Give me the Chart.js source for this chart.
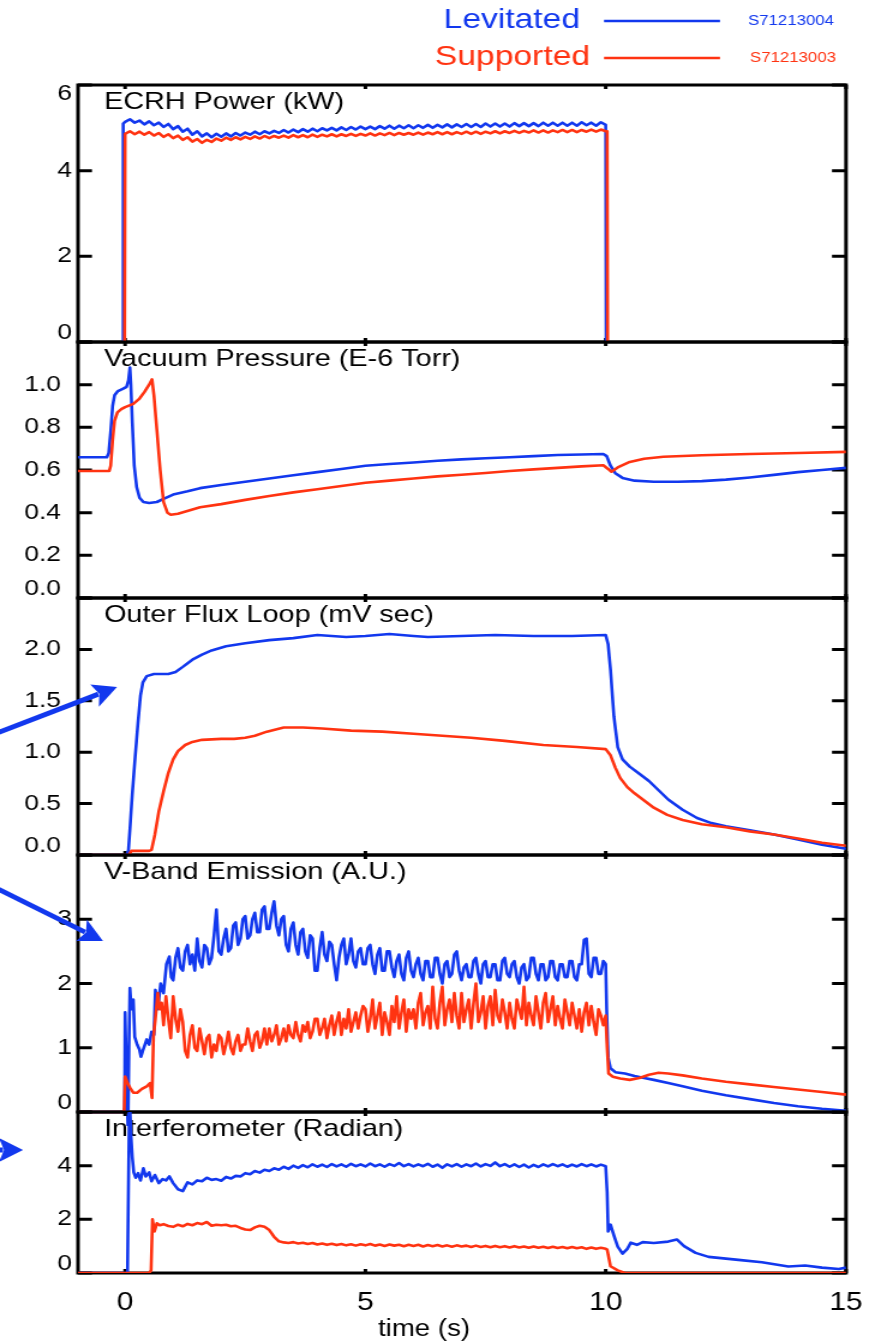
<!DOCTYPE html>
<html>
<head>
<meta charset="utf-8">
<script src="https://cdn.jsdelivr.net/npm/chart.js@4.4.1/dist/chart.umd.min.js"></script>
<style>
  body { margin: 0; background: #fff; }
  #wrap { position: relative; width: 869px; height: 1344px; overflow: hidden; }
  #wrap canvas { position: absolute; left: 0; }
</style>
</head>
<body>
<div id="wrap"></div>
<script>
// series names and shot numbers
var seriesNames = ['Levitated', 'Supported'];
var shotIds = ['S71213004', 'S71213003'];

// sample times used by the noisy traces (s)
var tGrid = [0.0,0.1,0.2,0.3,0.4,0.5,0.6,0.7,0.8,0.9,
  1.0,1.1,1.2,1.3,1.4,1.5,1.6,1.7,1.8,1.9,
  2.0,2.1,2.2,2.3,2.4,2.5,2.6,2.7,2.8,2.9,
  3.0,3.1,3.2,3.3,3.4,3.5,3.6,3.7,3.8,3.9,
  4.0,4.1,4.2,4.3,4.4,4.5,4.6,4.7,4.8,4.9,
  5.0,5.1,5.2,5.3,5.4,5.5,5.6,5.7,5.8,5.9,
  6.0,6.1,6.2,6.3,6.4,6.5,6.6,6.7,6.8,6.9,
  7.0,7.1,7.2,7.3,7.4,7.5,7.6,7.7,7.8,7.9,
  8.0,8.1,8.2,8.3,8.4,8.5,8.6,8.7,8.8,8.9,
  9.0,9.1,9.2,9.3,9.4,9.5,9.6,9.7,9.8,9.9,
  10.0];
var tGrid1 = tGrid.slice(10); // 1.0 .. 10.0
var tFine = [1.00,1.05,1.10,1.15,1.20,1.25,1.30,1.35,1.40,1.45,
  1.50,1.55,1.60,1.65,1.70,1.75,1.80,1.85,1.90,1.95,
  2.00,2.05,2.10,2.15,2.20,2.25,2.30,2.35,2.40,2.45,
  2.50,2.55,2.60,2.65,2.70,2.75,2.80,2.85,2.90,2.95,
  3.00,3.05,3.10,3.15,3.20,3.25,3.30,3.35,3.40,3.45,
  3.50,3.55,3.60,3.65,3.70,3.75,3.80,3.85,3.90,3.95,
  4.00,4.05,4.10,4.15,4.20,4.25,4.30,4.35,4.40,4.45,
  4.50,4.55,4.60,4.65,4.70,4.75,4.80,4.85,4.90,4.95,
  5.00,5.05,5.10,5.15,5.20,5.25,5.30,5.35,5.40,5.45,
  5.50,5.55,5.60,5.65,5.70,5.75,5.80,5.85,5.90,5.95,
  6.00,6.05,6.10,6.15,6.20,6.25,6.30,6.35,6.40,6.45,
  6.50,6.55,6.60,6.65,6.70,6.75,6.80,6.85,6.90,6.95,
  7.00,7.05,7.10,7.15,7.20,7.25,7.30,7.35,7.40,7.45,
  7.50,7.55,7.60,7.65,7.70,7.75,7.80,7.85,7.90,7.95,
  8.00,8.05,8.10,8.15,8.20,8.25,8.30,8.35,8.40,8.45,
  8.50,8.55,8.60,8.65,8.70,8.75,8.80,8.85,8.90,8.95,
  9.00,9.05,9.10,9.15,9.20,9.25,9.30,9.35,9.40,9.45,
  9.50,9.55,9.60,9.65,9.70,9.75,9.80,9.85,9.90,9.95,
  10.00];

// ECRH power (kW)
var ecrhLevHead = [[-0.05,0],[-0.04,5.1]];
var ecrhLev = [5.14,5.20,5.12,5.17,5.08,5.15,5.06,5.12,5.02,5.09,
  4.97,5.04,4.91,4.98,4.84,4.92,4.80,4.87,4.78,4.86,
  4.79,4.87,4.80,4.88,4.82,4.89,4.84,4.91,4.85,4.92,
  4.87,4.93,4.88,4.95,4.89,4.96,4.90,4.97,4.91,4.98,
  4.92,4.99,4.94,5.00,4.94,5.01,4.95,5.02,4.96,5.03,
  4.97,5.03,4.97,5.04,4.98,5.05,4.98,5.05,4.99,5.06,
  4.99,5.06,5.00,5.07,5.00,5.07,5.01,5.08,5.01,5.08,
  5.02,5.09,5.02,5.09,5.02,5.10,5.03,5.10,5.03,5.10,
  5.03,5.11,5.04,5.11,5.04,5.11,5.04,5.12,5.05,5.12,
  5.05,5.12,5.05,5.12,5.05,5.13,5.06,5.12,5.05,5.13,
  5.07];
var ecrhLevTail = [[10.01,0]];
var ecrhSupHead = [[-0.01,0],[0.0,4.85]];
var ecrhSup = [4.86,4.92,4.85,4.91,4.84,4.90,4.82,4.88,4.79,4.85,
  4.76,4.82,4.72,4.78,4.68,4.74,4.65,4.72,4.67,4.75,
  4.70,4.77,4.72,4.78,4.73,4.79,4.74,4.80,4.75,4.81,
  4.76,4.81,4.77,4.82,4.77,4.83,4.78,4.83,4.78,4.84,
  4.79,4.84,4.80,4.85,4.80,4.85,4.81,4.86,4.81,4.86,
  4.82,4.87,4.82,4.87,4.83,4.88,4.83,4.88,4.84,4.88,
  4.84,4.89,4.84,4.89,4.85,4.90,4.85,4.90,4.85,4.90,
  4.86,4.91,4.86,4.91,4.86,4.91,4.87,4.92,4.87,4.92,
  4.88,4.93,4.88,4.93,4.89,4.94,4.89,4.94,4.89,4.94,
  4.90,4.95,4.90,4.95,4.90,4.95,4.91,4.96,4.91,4.96,
  4.92];
var ecrhSupTail = [[10.03,4.92],[10.04,0]];

// vacuum pressure (E-6 Torr)
var presLev = [[-0.98,0.66],[-0.38,0.66],[-0.34,0.68],[-0.3,0.78],[-0.26,0.9],[-0.22,0.95],[-0.15,0.97],
  [-0.05,0.98],[0.03,0.99],[0.07,1.02],[0.1,1.08],[0.12,1.0],[0.15,0.82],[0.19,0.62],[0.24,0.52],
  [0.3,0.47],[0.38,0.45],[0.5,0.445],[0.66,0.45],[0.8,0.465],[1.0,0.485],[1.3,0.5],[1.56,0.515],
  [2.0,0.53],[2.5,0.545],[3.0,0.56],[3.5,0.575],[4.0,0.59],[4.5,0.605],[5.0,0.62],[5.5,0.628],
  [6.0,0.635],[6.5,0.643],[7.0,0.65],[7.5,0.655],[8.0,0.66],[8.5,0.665],[9.0,0.67],[9.5,0.673],
  [9.95,0.675],[10.02,0.665],[10.1,0.62],[10.2,0.585],[10.35,0.563],[10.6,0.55],[11.0,0.545],
  [11.5,0.545],[12.0,0.548],[12.5,0.555],[13.0,0.565],[13.5,0.577],[14.0,0.59],[14.5,0.6],[15.0,0.61]];
var presSup = [[-0.98,0.595],[-0.33,0.595],[-0.3,0.62],[-0.26,0.74],[-0.22,0.83],[-0.16,0.87],[-0.08,0.885],
  [0.0,0.895],[0.17,0.91],[0.3,0.935],[0.4,0.965],[0.5,1.0],[0.56,1.025],[0.6,0.95],[0.66,0.79],
  [0.73,0.6],[0.8,0.45],[0.88,0.4],[0.95,0.39],[1.1,0.395],[1.56,0.425],[2.0,0.44],[2.5,0.46],
  [3.0,0.478],[3.5,0.495],[4.0,0.51],[4.5,0.525],[5.0,0.54],[5.5,0.55],[6.0,0.56],[6.5,0.57],
  [7.0,0.578],[7.5,0.586],[8.0,0.595],[8.5,0.603],[9.0,0.61],[9.5,0.617],[9.95,0.622],[10.05,0.605],
  [10.12,0.592],[10.25,0.612],[10.5,0.638],[10.8,0.653],[11.2,0.662],[12.0,0.669],[13.0,0.675],
  [14.0,0.68],[15.0,0.685]];

// outer flux loop (mV sec)
var fluxLev = [[-0.98,0],[0.04,0],[0.07,0.05],[0.1,0.25],[0.15,0.6],[0.21,0.96],[0.27,1.3],[0.32,1.55],
  [0.37,1.68],[0.45,1.74],[0.6,1.76],[0.9,1.76],[1.05,1.78],[1.2,1.83],[1.4,1.9],[1.6,1.95],[1.8,1.99],
  [2.1,2.03],[2.5,2.06],[3.0,2.09],[3.5,2.11],[4.0,2.14],[4.3,2.13],[4.6,2.12],[5.0,2.13],[5.5,2.15],
  [6.0,2.13],[6.3,2.12],[7.0,2.13],[7.7,2.14],[8.5,2.13],[9.3,2.13],[10.0,2.14],[10.05,2.05],[10.1,1.8],
  [10.17,1.35],[10.25,1.05],[10.35,0.93],[10.5,0.86],[10.7,0.79],[10.9,0.72],[11.1,0.63],[11.3,0.54],
  [11.6,0.44],[11.9,0.36],[12.2,0.31],[12.5,0.28],[13.0,0.24],[13.5,0.2],[14.0,0.15],[14.5,0.1],[15.0,0.06]];
var fluxSup = [[-0.98,0],[0.08,0],[0.13,0.04],[0.5,0.04],[0.55,0.05],[0.62,0.2],[0.7,0.42],[0.8,0.62],
  [0.9,0.8],[1.0,0.93],[1.1,1.01],[1.25,1.07],[1.4,1.1],[1.6,1.12],[2.0,1.13],[2.27,1.13],[2.5,1.14],
  [2.7,1.16],[2.95,1.2],[3.3,1.24],[3.7,1.24],[4.1,1.23],[4.7,1.21],[5.35,1.2],[6.0,1.18],[6.6,1.16],
  [7.2,1.14],[7.9,1.11],[8.7,1.07],[9.4,1.05],[10.0,1.03],[10.1,0.97],[10.2,0.85],[10.3,0.75],
  [10.45,0.66],[10.6,0.6],[10.8,0.53],[11.0,0.46],[11.28,0.39],[11.6,0.34],[12.0,0.3],[12.5,0.27],
  [13.0,0.23],[13.5,0.2],[14.0,0.16],[14.5,0.12],[15.0,0.09]];

// V-band emission (A.U.)
var vbLevHead = [[-0.98,0],[-0.01,0],[0.0,1.55],[0.03,0.5],[0.06,-0.25],[0.08,1.0],[0.1,1.93],[0.13,1.6],
  [0.17,1.75],[0.2,1.17],[0.25,1.05],[0.3,0.97],[0.33,0.86],[0.38,0.98],[0.45,1.13],[0.5,1.05],
  [0.55,1.25],[0.6,1.2],[0.63,1.9],[0.68,1.6],[0.74,2.0],[0.8,1.85],[0.86,2.3],[0.92,2.42],[0.96,2.1]];
var vbLev = [2.05,2.4,2.55,2.25,2.2,2.5,2.6,2.3,2.45,2.2,
  2.7,2.35,2.25,2.6,2.55,2.3,2.4,2.75,3.15,2.5,
  2.45,2.7,2.85,2.5,2.55,2.9,2.95,2.6,2.7,3.0,
  3.05,2.7,2.75,3.0,3.1,2.8,2.8,3.15,3.2,2.85,
  2.85,3.1,3.28,2.9,2.75,3.0,3.05,2.6,2.5,2.85,
  2.95,2.6,2.45,2.8,2.85,2.5,2.4,2.75,2.7,2.2,
  2.2,2.55,2.8,2.45,2.35,2.65,2.6,2.3,2.05,2.4,
  2.6,2.7,2.3,2.45,2.7,2.35,2.25,2.5,2.55,2.3,
  2.3,2.55,2.6,2.3,2.15,2.45,2.55,2.2,2.2,2.5,
  2.5,2.25,2.1,2.35,2.45,2.15,2.05,2.4,2.5,2.2,
  2.1,2.3,2.4,2.15,2.05,2.35,2.35,2.1,2.1,2.4,
  2.4,2.15,2.0,2.3,2.35,2.1,2.15,2.45,2.5,2.2,
  2.05,2.25,2.3,2.1,2.1,2.35,2.4,2.15,2.0,2.3,
  2.35,2.1,2.1,2.3,2.3,2.05,2.05,2.35,2.4,2.15,
  2.1,2.3,2.35,2.1,2.0,2.25,2.3,2.05,2.1,2.4,
  2.4,2.15,2.05,2.3,2.3,2.05,2.1,2.35,2.35,2.1,
  2.05,2.3,2.3,2.1,2.1,2.35,2.35,2.1,2.05,2.3,
  2.3,2.68,2.7,2.15,2.1,2.4,2.4,2.15,2.15,2.35,
  2.3];
var vbLevTail = [[10.02,1.6],[10.05,0.85],[10.1,0.68],[10.2,0.62],[10.4,0.6],[10.6,0.56],[10.8,0.53],
  [11.0,0.5],[11.3,0.45],[11.6,0.4],[12.0,0.33],[12.5,0.26],[13.0,0.2],[13.5,0.14],[14.0,0.09],
  [14.5,0.05],[15.0,0.02]];
var vbSupHead = [[-0.98,0],[-0.02,0],[0.0,0.55],[0.05,0.45],[0.1,0.38],[0.17,0.3],[0.25,0.3],[0.35,0.36],
  [0.45,0.4],[0.52,0.45],[0.56,0.22],[0.59,1.17],[0.63,1.45],[0.68,1.85],[0.72,1.6],[0.76,1.7],
  [0.8,1.35],[0.85,1.8],[0.9,1.45],[0.95,1.15]];
var vbSup = [1.8,1.45,1.25,1.6,1.4,0.95,0.85,1.2,1.35,1.0,
  0.95,1.3,1.1,0.9,1.15,1.2,0.85,1.05,0.95,1.2,
  1.15,0.9,1.05,1.25,1.0,0.9,1.1,1.2,0.95,1.05,
  1.05,1.3,1.1,0.95,1.2,1.25,1.0,1.1,1.3,1.05,
  1.3,1.1,1.2,1.35,1.05,1.15,1.3,1.1,1.35,1.2,
  1.15,1.4,1.2,1.1,1.35,1.25,1.4,1.15,1.25,1.45,
  1.45,1.2,1.3,1.45,1.15,1.35,1.5,1.2,1.4,1.55,
  1.2,1.45,1.3,1.6,1.25,1.4,1.55,1.3,1.5,1.65,
  1.6,1.25,1.45,1.75,1.3,1.5,1.7,1.2,1.55,1.4,
  1.2,1.65,1.4,1.8,1.3,1.55,1.75,1.25,1.6,1.45,
  1.6,1.3,1.7,1.85,1.35,1.55,1.65,1.3,1.95,1.45,
  1.3,1.7,1.95,1.35,1.6,1.75,1.4,1.85,1.5,1.3,
  1.85,1.4,1.6,1.75,1.3,1.7,2.0,1.4,1.55,1.8,
  1.3,1.65,1.8,1.35,1.9,1.5,1.4,1.75,1.55,1.3,
  1.7,1.45,1.3,1.75,1.6,1.45,1.95,1.35,1.7,1.5,
  1.35,1.8,1.55,1.3,1.7,1.85,1.4,1.6,1.8,1.35,
  1.65,1.45,1.3,1.75,1.55,1.35,1.7,1.5,1.3,1.6,
  1.25,1.55,1.7,1.35,1.65,1.4,1.2,1.6,1.5,1.35,
  1.5];
var vbSupTail = [[10.03,1.0],[10.06,0.6],[10.15,0.55],[10.3,0.52],[10.5,0.5],[10.7,0.53],[10.9,0.58],
  [11.1,0.61],[11.3,0.6],[11.6,0.57],[12.0,0.52],[12.5,0.47],[13.0,0.43],[13.5,0.39],[14.0,0.35],
  [14.5,0.31],[15.0,0.27]];

// interferometer (radian)
var ifLevHead = [[-0.98,0],[0.05,0],[0.09,6.6],[0.12,5.2],[0.15,4.3],[0.18,3.75],[0.22,3.55],[0.27,3.72],
  [0.32,3.45],[0.38,3.9],[0.43,3.6],[0.5,3.75],[0.55,3.42],[0.62,3.65],[0.7,3.35],[0.78,3.5],
  [0.85,3.45],[0.92,3.6]];
var ifLev = [3.35,3.12,3.05,3.38,3.3,3.45,3.42,3.55,3.47,3.5,
  3.44,3.58,3.52,3.62,3.6,3.72,3.68,3.8,3.74,3.85,
  3.8,3.9,3.85,3.96,3.88,4.0,3.92,4.02,3.94,4.05,
  3.96,4.04,3.95,4.06,3.97,4.05,3.96,4.07,3.98,4.05,
  3.97,4.08,3.98,4.05,3.96,4.06,3.99,4.1,3.98,4.06,
  3.97,4.05,3.98,4.07,3.96,4.04,3.92,4.05,3.97,4.06,
  3.96,4.05,3.98,4.08,3.97,4.06,3.99,4.12,3.98,4.06,
  3.96,4.05,3.95,4.04,3.93,4.03,3.95,4.05,3.97,4.06,
  3.98,4.05,3.96,4.04,3.97,4.06,3.98,4.05,3.97,4.04,
  3.98];
var ifLevTail = [[10.03,3.0],[10.05,1.55],[10.1,1.8],[10.17,1.4],[10.25,0.98],[10.35,0.72],[10.45,0.9],
  [10.52,1.13],[10.65,1.05],[10.77,1.15],[11.0,1.12],[11.3,1.17],[11.48,1.25],[11.63,1.0],[11.87,0.75],
  [12.14,0.6],[12.76,0.49],[13.25,0.4],[13.8,0.24],[14.15,0.28],[14.5,0.2],[14.85,0.15],[15.0,0.2]];
var ifSupHead = [[-0.98,0],[0.5,0],[0.54,0.1],[0.57,2.0],[0.61,1.55],[0.66,1.85],[0.72,1.78],[0.8,1.82],[0.9,1.75]];
var ifSup = [1.72,1.8,1.74,1.83,1.78,1.86,1.82,1.9,1.76,1.8,
  1.78,1.8,1.74,1.76,1.68,1.62,1.6,1.7,1.76,1.72,
  1.6,1.35,1.18,1.14,1.12,1.15,1.1,1.13,1.08,1.12,
  1.06,1.1,1.05,1.09,1.04,1.08,1.03,1.07,1.02,1.07,
  1.03,1.08,1.02,1.06,1.01,1.06,1.02,1.05,1.0,1.05,
  1.01,1.05,0.99,1.04,1.0,1.04,0.99,1.03,0.98,1.03,
  0.99,1.02,0.97,1.02,0.97,1.01,0.96,1.01,0.96,1.0,
  0.95,1.0,0.95,0.99,0.94,0.99,0.94,0.98,0.93,0.98,
  0.93,0.97,0.92,0.97,0.92,0.96,0.9,0.95,0.9,0.94,
  0.9];
var ifSupTail = [[10.03,0.87],[10.1,0.25],[10.25,0.1],[10.4,0],[15.0,0]];

function fromPairs(ps) { return ps.map(function (p) { return { x: p[0], y: p[1] }; }); }
function fromGrid(ts, vs) { return ts.map(function (t, i) { return { x: t, y: vs[i] }; }); }

var BLUE = '#1238ee';
var RED = '#ff3311';
var FONT = '"Liberation Sans", Arial, Helvetica, sans-serif';
// the reference lettering is wide, so the canvases are drawn narrower and stretched by CSS
var W = 869, CW = 724, SX = W / CW;
var PLOT_L = 78, PLOT_R = 846;

Chart.defaults.font.family = FONT;
Chart.defaults.color = '#000';

var panels = [
  { title: 'ECRH Power (kW)', top: 85, bottom: 342, padTop: 85, padBottom: 14, max: 6, step: 2, dec: 0, labelPad: 6, showTop: true,
    lev: fromPairs(ecrhLevHead).concat(fromGrid(tGrid, ecrhLev), fromPairs(ecrhLevTail)),
    sup: fromPairs(ecrhSupHead).concat(fromGrid(tGrid, ecrhSup), fromPairs(ecrhSupTail)),
    legend: true, arrows: [] },
  { title: 'Vacuum Pressure (E-6 Torr)', top: 342, bottom: 598, padTop: 14, padBottom: 14, max: 1.2, step: 0.2, dec: 1, labelPad: 17,
    lev: fromPairs(presLev), sup: fromPairs(presSup), arrows: [] },
  { title: 'Outer Flux Loop (mV sec)', top: 598, bottom: 855, padTop: 14, padBottom: 14, max: 2.5, step: 0.5, dec: 1, labelPad: 17,
    lev: fromPairs(fluxLev), sup: fromPairs(fluxSup),
    arrows: [[-8, 735, 117, 687]] },
  { title: 'V-Band Emission (A.U.)', top: 855, bottom: 1112, padTop: 14, padBottom: 14, max: 4, step: 1, dec: 0, labelPad: 6, noClip: true,
    lev: fromPairs(vbLevHead).concat(fromGrid(tFine, vbLev), fromPairs(vbLevTail)),
    sup: fromPairs(vbSupHead).concat(fromGrid(tFine, vbSup), fromPairs(vbSupTail)),
    arrows: [[-8, 886, 103, 941]] },
  { title: 'Interferometer (Radian)', top: 1112, bottom: 1273, padTop: 14, padBottom: 71, max: 6, step: 2, dec: 0, labelPad: 6, last: true,
    lev: fromPairs(ifLevHead).concat(fromGrid(tGrid1, ifLev), fromPairs(ifLevTail)),
    sup: fromPairs(ifSupHead).concat(fromGrid(tGrid1, ifSup), fromPairs(ifSupTail)),
    arrows: [[-40, 1150, 23, 1150]], caption: 'time (s)' }
];

function drawArrow(ctx, x0, y0, x1, y1) {
  var dx = x1 - x0, dy = y1 - y0, len = Math.sqrt(dx * dx + dy * dy);
  var ux = dx / len, uy = dy / len, hl = 24, hw = 12;
  var bx = x1 - ux * hl, by = y1 - uy * hl;
  ctx.beginPath();
  ctx.moveTo(x0, y0);
  ctx.lineTo(bx + ux * 4, by + uy * 4);
  ctx.stroke();
  ctx.beginPath();
  ctx.moveTo(x1, y1);
  ctx.lineTo(bx - uy * hw, by + ux * hw);
  ctx.lineTo(bx + ux * 5, by + uy * 5);
  ctx.lineTo(bx + uy * hw, by - ux * hw);
  ctx.closePath();
  ctx.fill();
}

var panelPlugin = {
  id: 'panel',
  beforeDatasetsDraw: function (chart, args, opts) {
    var ctx = chart.ctx, a = chart.chartArea, xs = chart.scales.x, ys = chart.scales.y;
    ctx.save();
    ctx.strokeStyle = '#000';
    ctx.lineWidth = 3;
    ctx.strokeRect(a.left, a.top, a.right - a.left, a.bottom - a.top);
    ctx.beginPath();
    ys.ticks.forEach(function (t) {
      var py = ys.getPixelForValue(t.value);
      ctx.moveTo(a.left, py); ctx.lineTo(a.left + 14 / SX, py);
      ctx.moveTo(a.right - 14 / SX, py); ctx.lineTo(a.right, py);
    });
    xs.ticks.forEach(function (t) {
      var px = xs.getPixelForValue(t.value);
      ctx.moveTo(px, a.top); ctx.lineTo(px, a.top + 4);
      ctx.moveTo(px, a.bottom - 4); ctx.lineTo(px, a.bottom);
    });
    ctx.stroke();
    ctx.fillStyle = '#000';
    ctx.font = '24px ' + FONT;
    ctx.textBaseline = 'middle';
    ctx.textAlign = 'left';
    ctx.fillText(opts.title, a.left + 26 / SX, a.top + 17);
    ctx.restore();
  },
  afterDatasetsDraw: function (chart, args, opts) {
    var ctx = chart.ctx, off = opts.offset;
    ctx.save();
    ctx.scale(1 / SX, 1); // arrows in page pixels, unstretched
    ctx.strokeStyle = BLUE;
    ctx.fillStyle = BLUE;
    ctx.lineWidth = 5;
    (opts.arrows || []).forEach(function (ar) {
      drawArrow(ctx, ar[0], ar[1] - off, ar[2], ar[3] - off);
    });
    ctx.restore();
    ctx.save();
    if (opts.legend) {
      var ds = chart.data.datasets;
      var rows = [{ ds: ds[1], y: 20, right: 580, shot: shotIds[0], sx: 748 },
                  { ds: ds[0], y: 57, right: 590, shot: shotIds[1], sx: 750 }];
      rows.forEach(function (r) {
        ctx.fillStyle = r.ds.borderColor;
        ctx.strokeStyle = r.ds.borderColor;
        ctx.textBaseline = 'middle';
        ctx.textAlign = 'right';
        ctx.font = '28px ' + FONT;
        ctx.fillText(r.ds.label, r.right / SX, r.y);
        ctx.lineWidth = 2.6;
        ctx.beginPath();
        ctx.moveTo(604 / SX, r.y + 1); ctx.lineTo(720 / SX, r.y + 1);
        ctx.stroke();
        ctx.textAlign = 'left';
        ctx.font = '14px ' + FONT;
        ctx.fillText(r.shot, r.sx / SX, r.y + 1);
      });
    }
    if (opts.caption) {
      ctx.fillStyle = '#000';
      ctx.textAlign = 'center';
      ctx.textBaseline = 'middle';
      ctx.font = '23px ' + FONT;
      ctx.fillText(opts.caption, 424 / SX, 1330 - off);
    }
    ctx.restore();
  }
};

var wrap = document.getElementById('wrap');

panels.forEach(function (p) {
  var last = !!p.last;
  var h = p.padTop + (p.bottom - p.top) + p.padBottom;
  var canvas = document.createElement('canvas');
  canvas.width = CW;
  canvas.height = h;
  canvas.style.top = (p.top - p.padTop) + 'px';
  canvas.style.width = W + 'px';
  canvas.style.height = h + 'px';
  wrap.appendChild(canvas);

  new Chart(canvas, {
    type: 'line',
    data: {
      datasets: [
        { label: seriesNames[1], data: p.sup, borderColor: RED, order: 0, clip: p.noClip ? false : undefined },
        { label: seriesNames[0], data: p.lev, borderColor: BLUE, order: 1, clip: p.noClip ? false : undefined }
      ]
    },
    options: {
      responsive: false,
      animation: false,
      devicePixelRatio: 1,
      events: [],
      layout: { padding: { top: p.padTop, bottom: last ? 0 : p.padBottom, left: 0, right: (W - PLOT_R) / SX } },
      elements: {
        point: { radius: 0 },
        line: { borderWidth: 2.6, tension: 0, borderJoinStyle: 'round' }
      },
      plugins: {
        legend: { display: false },
        tooltip: { enabled: false },
        panel: { title: p.title, arrows: p.arrows, legend: !!p.legend, caption: p.caption,
                 offset: p.top - p.padTop }
      },
      scales: {
        x: {
          type: 'linear', min: -0.98, max: 15,
          grid: { display: false, drawTicks: false },
          border: { display: false },
          ticks: { stepSize: 5, includeBounds: false, display: last, font: { size: 25 },
                   padding: 15, maxRotation: 0, autoSkip: false, color: '#000' },
          afterFit: function (s) { s.height = last ? p.padBottom : 0; s.paddingLeft = 0; s.paddingRight = 0; }
        },
        y: {
          type: 'linear', min: 0, max: p.max,
          grid: { display: false, drawTicks: false },
          border: { display: false },
          ticks: {
            stepSize: p.step, includeBounds: false, autoSkip: false, color: '#000',
            font: { size: 22, lineHeight: 0.85 }, padding: p.labelPad / SX,
            callback: function (v) {
              var s = Number(v).toFixed(p.dec);
              if (Math.abs(v - p.max) < 1e-6) return p.showTop ? ['', s] : '';
              if (Math.abs(v) < 1e-6) return [s, ''];
              return s;
            }
          },
          afterFit: function (s) { s.width = PLOT_L / SX; s.paddingTop = 0; s.paddingBottom = 0; }
        }
      }
    },
    plugins: [panelPlugin]
  });
});
</script>
</body>
</html>
